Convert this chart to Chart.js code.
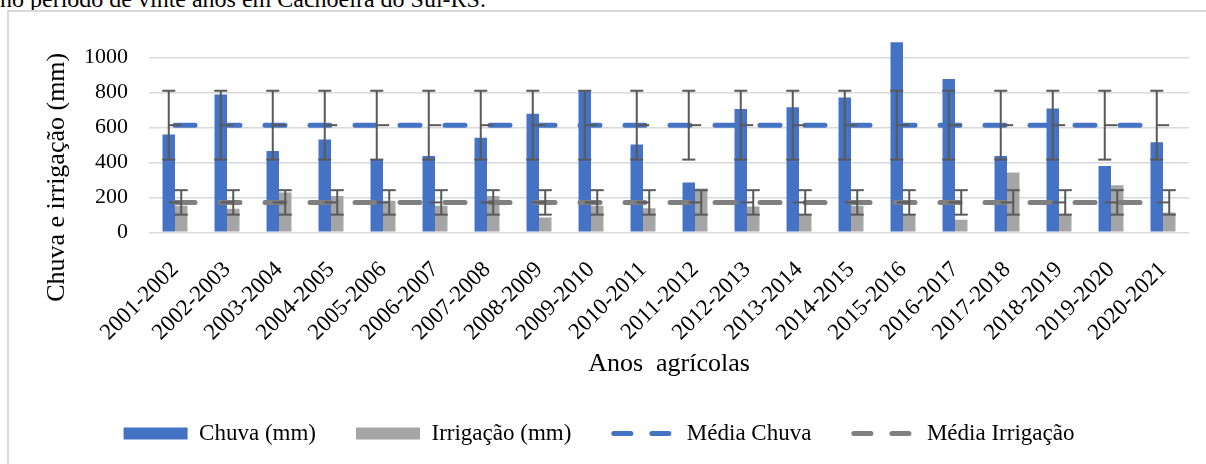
<!DOCTYPE html>
<html>
<head>
<meta charset="utf-8">
<script src="https://cdn.jsdelivr.net/npm/chart.js@4/dist/chart.umd.min.js"></script>
<style>
  body { margin: 0; background: #fff; overflow: hidden; width: 1206px; height: 464px; position: relative; }
  #legenda-fig { position: absolute; left: 0; top: -13px; font: 24px/24px "Liberation Serif", serif; color: #000; white-space: nowrap; }
  #quadro { position: absolute; left: 7px; top: 10px; width: 1210px; height: 470px; border-left: 2px solid #d9d9d9; border-top: 2px solid #d9d9d9; }
  #quadro canvas { position: absolute; left: 0; top: 0; }
</style>
</head>
<body>
<div id="legenda-fig">no período de vinte anos em Cachoeira do Sul-RS.</div>
<div id="quadro"><canvas id="grafico" width="1197" height="452"></canvas></div>
<script>
// dados
const anos = ['2001-2002', '2002-2003', '2003-2004', '2004-2005', '2005-2006', '2006-2007', '2007-2008',
  '2008-2009', '2009-2010', '2010-2011', '2011-2012', '2012-2013', '2013-2014', '2014-2015',
  '2015-2016', '2016-2017', '2017-2018', '2018-2019', '2019-2020', '2020-2021']
const chuva = [560, 788, 465, 531, 418, 436, 541, 678, 812, 503, 285, 706, 715, 772, 1088, 877, 436, 708, 379, 516]
const irrigacao = [152, 135, 228, 208, 180, 152, 208, 85, 152, 137, 250, 148, 100, 152, 104, 72, 342, 104, 269, 114]
const mediaChuva = 613
const desvioChuva = 197
const mediaIrrigacao = 171
const desvioIrrigacao = 70
const ticksY = [0, 200, 400, 600, 800, 1000]

const fonte = '"Liberation Serif", "Times New Roman", serif'
const azul = '#4472C4'
const cinza = '#A5A5A5'
const cinzaEscuro = '#7F7F7F'
const corErro = '#595959'

// barras de erro desenhadas sobre as colunas
const barrasErro = {
  id: 'barrasErro',
  afterDatasetsDraw(chart) {
    const ctx = chart.ctx
    const y = chart.scales.y
    const metaChuva = chart.getDatasetMeta(0)
    const metaIrr = chart.getDatasetMeta(1)
    const linha = (x1, y1, x2, y2) => { ctx.beginPath(); ctx.moveTo(x1, y1); ctx.lineTo(x2, y2); ctx.stroke() }
    const erro = (x, media, desvio) => {
      const topo = y.getPixelForValue(media + desvio)
      const base = y.getPixelForValue(media - desvio)
      linha(x, topo, x, base)
      linha(x - 6.5, topo, x + 6.5, topo)
      linha(x - 6.5, base, x + 6.5, base)
    }
    ctx.save()
    ctx.strokeStyle = corErro
    ctx.lineWidth = 2
    anos.forEach((a, i) => {
      const xc = metaChuva.data[i].x
      const xi = metaIrr.data[i].x
      erro(xc, mediaChuva, desvioChuva)
      erro(xi, mediaIrrigacao, desvioIrrigacao)
      linha(xc, y.getPixelForValue(mediaChuva), xi, y.getPixelForValue(mediaChuva))
      linha(xc, y.getPixelForValue(mediaIrrigacao), xi, y.getPixelForValue(mediaIrrigacao))
    })
    ctx.restore()
  }
}

// título do eixo y (centrado como no original, abaixo do centro da área)
// e os traços tracejados da legenda para as médias
const extras = {
  id: 'extras',
  afterDraw(chart) {
    const ctx = chart.ctx
    ctx.save()
    ctx.translate(48, chart.chartArea.bottom - 55)
    ctx.rotate(-Math.PI / 2)
    ctx.font = '26px ' + fonte
    ctx.fillStyle = '#000'
    ctx.textAlign = 'center'
    ctx.textBaseline = 'middle'
    ctx.fillText('Chuva e irrigação (mm)', 0, 0)
    ctx.restore()

    const leg = chart.legend
    leg.legendItems.forEach((it, i) => {
      if (!it.tracejado) return
      const box = leg.legendHitBoxes[i]
      const yc = box.top + box.height / 2
      ctx.save()
      ctx.strokeStyle = it.tracejado
      ctx.lineWidth = 5
      ctx.lineCap = 'round'
      ctx.setLineDash([17, 21])
      ctx.beginPath()
      ctx.moveTo(box.left + 2.5, yc)
      ctx.lineTo(box.left + 60, yc)
      ctx.stroke()
      ctx.restore()
    })
  }
}

new Chart(document.getElementById('grafico'), {
  type: 'bar',
  data: {
    labels: anos,
    datasets: [
      { label: 'Chuva (mm)', data: chuva, backgroundColor: azul, borderWidth: 0, pointStyle: 'rect', order: 2 },
      { label: 'Irrigação (mm)', data: irrigacao, backgroundColor: cinza, borderWidth: 0, pointStyle: 'rect', order: 2 },
      {
        type: 'line', label: 'Média Chuva', data: anos.map(() => mediaChuva),
        borderColor: azul, backgroundColor: azul, borderWidth: 5, borderDash: [20, 25],
        borderCapStyle: 'round', pointRadius: 0, pointStyle: 'line', order: 1
      },
      {
        type: 'line', label: 'Média Irrigação', data: anos.map(() => mediaIrrigacao),
        borderColor: cinzaEscuro, backgroundColor: cinzaEscuro, borderWidth: 5, borderDash: [20, 25],
        borderCapStyle: 'round', pointRadius: 0, pointStyle: 'line', order: 1
      }
    ]
  },
  options: {
    responsive: false,
    animation: false,
    devicePixelRatio: 1,
    layout: { padding: { left: 0, right: 17, top: 10.6, bottom: 9 } },
    datasets: { bar: { categoryPercentage: 0.48, barPercentage: 1 } },
    plugins: {
      tooltip: { enabled: false },
      legend: {
        position: 'bottom',
        labels: {
          usePointStyle: true,
          pointStyleWidth: 64,
          boxHeight: 12,
          padding: 40,
          color: '#000',
          font: { family: fonte, size: 23 },
          sort: (a, b) => a.datasetIndex - b.datasetIndex,
          generateLabels(chart) {
            const itens = Chart.defaults.plugins.legend.labels.generateLabels(chart)
            itens.forEach(it => {
              if (it.pointStyle === 'line') {
                it.tracejado = it.strokeStyle
                it.strokeStyle = 'rgba(0,0,0,0)'
              }
            })
            return itens
          }
        }
      }
    },
    scales: {
      x: {
        grid: { display: false },
        border: { display: false },
        ticks: {
          autoSkip: false, maxRotation: 45, minRotation: 45, padding: 16,
          color: '#000', font: { family: fonte, size: 23 }
        },
        title: {
          display: true, text: 'Anos  agrícolas', color: '#000',
          font: { family: fonte, size: 26 }, padding: { top: 0, bottom: 2 }
        },
        afterFit(s) { s.height = 149.7; s.paddingLeft = 0; s.paddingRight = 0 }
      },
      y: {
        min: 0,
        max: 1200,
        border: { display: false },
        grid: {
          drawTicks: false, lineWidth: 1.5,
          color: c => ticksY.includes(c.tick.value) ? '#d9d9d9' : 'rgba(0,0,0,0)'
        },
        ticks: {
          stepSize: 200, padding: 21, color: '#000', font: { family: fonte, size: 22 },
          callback: v => ticksY.includes(v) ? v : ''
        },
        afterFit(s) { s.width = 140; s.paddingTop = 0; s.paddingBottom = 0 }
      }
    }
  },
  plugins: [barrasErro, extras]
})
</script>
</body>
</html>
